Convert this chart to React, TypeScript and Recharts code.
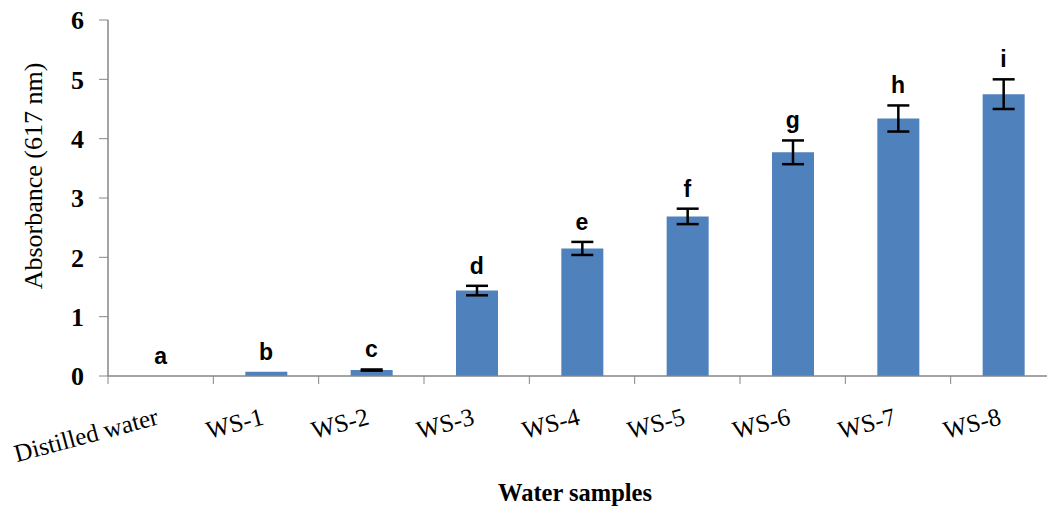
import React from "react";
import {
  ComposedChart,
  Bar,
  Line,
  XAxis,
  YAxis,
  ErrorBar,
  LabelList,
  Label,
} from "recharts";

const categories = [
  "Distilled water",
  "WS-1",
  "WS-2",
  "WS-3",
  "WS-4",
  "WS-5",
  "WS-6",
  "WS-7",
  "WS-8",
];
const absorbance = [0, 0.07, 0.1, 1.44, 2.15, 2.69, 3.77, 4.34, 4.75];
const errors = [0, 0, 0.01, 0.08, 0.11, 0.13, 0.2, 0.22, 0.25];
const letters = ["a", "b", "c", "d", "e", "f", "g", "h", "i"];
const yTicks = [0, 1, 2, 3, 4, 5, 6];

const data = categories.map((name, i) => ({
  name,
  value: absorbance[i],
  err: errors[i],
  top: absorbance[i] + errors[i],
  letter: letters[i],
}));

const SERIF = "'Liberation Serif', 'Times New Roman', serif";
const SANS = "'Liberation Sans', Arial, sans-serif";
const AXIS = "#868686";

const XTick = (props: any) => {
  const { x, y, payload } = props;
  const off = payload && typeof payload.offset === "number" && payload.offset > 0 ? payload.offset : 52.7;
  const tx = x - 1;
  const ty = y + 48;
  return (
    <g>
      <line x1={x - off} y1={y} x2={x - off} y2={y + 8} stroke={AXIS} strokeWidth={1} />
      <text
        x={tx}
        y={ty}
        transform={`rotate(-15 ${tx} ${ty})`}
        textAnchor="end"
        fontFamily={SERIF}
        fontSize={25}
        fill="#000"
      >
        {payload.value}
      </text>
    </g>
  );
};

const LetterLabel = (props: any) => {
  const { x, y, value } = props;
  return (
    <text
      x={x}
      y={y - 12}
      textAnchor="middle"
      fontFamily={SANS}
      fontWeight="bold"
      fontSize={23}
      fill="#000"
    >
      {value}
    </text>
  );
};

export default function App() {
  return (
    <div
      style={{
        position: "absolute",
        left: 0,
        top: 0,
        width: 1047,
        height: 508,
        overflow: "hidden",
        background: "#fff",
      }}
    >
      <ComposedChart
        width={1060}
        height={508}
        data={data}
        margin={{ top: 20, right: 4, bottom: 0, left: 0 }}
        barSize={42}
      >
        <XAxis
          dataKey="name"
          height={132}
          interval={0}
          tickSize={0}
          tickMargin={0}
          axisLine={{ stroke: AXIS, strokeWidth: 1.5 }}
          tickLine={false}
          tick={<XTick />}
        >
          <Label
            content={() => (
              <text
                x={575}
                y={501}
                textAnchor="middle"
                fontFamily={SERIF}
                fontWeight="bold"
                fontSize={24.5}
                fill="#000"
              >
                Water samples
              </text>
            )}
          />
        </XAxis>
        <YAxis
          width={108}
          domain={[0, 6]}
          ticks={yTicks}
          interval={0}
          tickSize={9}
          tickMargin={15}
          axisLine={{ stroke: AXIS, strokeWidth: 1.5 }}
          tickLine={{ stroke: AXIS, strokeWidth: 1 }}
          tick={{ fontFamily: SERIF, fontWeight: "bold", fontSize: 26, fill: "#000" }}
        >
          <Label
            content={() => (
              <text
                x={42}
                y={176}
                transform="rotate(-90 42 176)"
                textAnchor="middle"
                fontFamily={SERIF}
                fontSize={26}
                fill="#000"
              >
                Absorbance (617 nm)
              </text>
            )}
          />
        </YAxis>
        <Bar dataKey="value" fill="#4F81BD" isAnimationActive={false}>
          <ErrorBar dataKey="err" width={11} strokeWidth={2.5} stroke="#000" />
        </Bar>
        <Line
          dataKey="top"
          stroke="none"
          dot={false}
          activeDot={false}
          legendType="none"
          isAnimationActive={false}
        >
          <LabelList dataKey="letter" content={<LetterLabel />} />
        </Line>
      </ComposedChart>
    </div>
  );
}
